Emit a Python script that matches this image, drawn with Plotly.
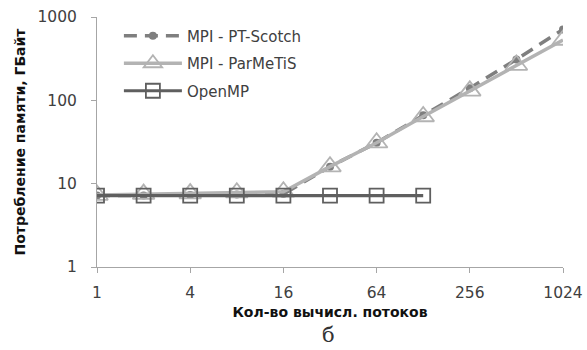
import plotly.graph_objects as go

threads = [1, 2, 4, 8, 16, 32, 64, 128, 256, 512, 1024]
openmp_threads = [1, 2, 4, 8, 16, 32, 64, 128]

pt_scotch = [7.2, 7.2, 7.3, 7.4, 7.5, 16, 31, 66, 140, 310, 710]
parmetis = [7.3, 7.5, 7.6, 7.8, 8.0, 16, 31, 64, 130, 265, 530]
openmp = [7.2, 7.2, 7.2, 7.2, 7.2, 7.2, 7.2, 7.2]

series_names = ["MPI - PT-Scotch", "MPI - ParMeTiS", "OpenMP"]
x_ticks = [1, 4, 16, 64, 256, 1024]
y_ticks = [1, 10, 100, 1000]

x_title = "Кол-во вычисл. потоков"
y_title = "Потребление памяти, ГБайт"
caption = "б"

tick_font = dict(family="DejaVu Sans", size=15.5, color="#404040")

fig = go.Figure()
fig.add_trace(go.Scatter(
    x=threads, y=pt_scotch, name=series_names[0], mode="lines+markers",
    line=dict(color="#7f7f7f", width=3.5, dash="13px,8px"),
    marker=dict(symbol="circle", size=8, color="#7f7f7f"),
    legendgroup="a",
))
fig.add_trace(go.Scatter(
    x=threads, y=parmetis, name=series_names[1], mode="lines+markers",
    line=dict(color="#b3b3b3", width=3.5),
    marker=dict(symbol="triangle-up-open", size=19, color="#b3b3b3", line=dict(width=1.8, color="#b3b3b3")),
    legendgroup="b",
))
fig.add_trace(go.Scatter(
    x=openmp_threads, y=openmp, name=series_names[2], mode="lines+markers",
    line=dict(color="#5f5f5f", width=3.2),
    marker=dict(symbol="square-open", size=14, color="#5f5f5f", line=dict(width=1.8, color="#5f5f5f")),
    legendgroup="c",
))

fig.update_layout(
    width=587, height=350,
    margin=dict(l=97, r=24, t=17, b=83, autoexpand=False),
    paper_bgcolor="white", plot_bgcolor="white",
    showlegend=True,
    legend=dict(x=0.047, y=0.99, xanchor="left", yanchor="top",
                bgcolor="rgba(0,0,0,0)", tracegroupgap=5, itemwidth=58,
                font=dict(family="DejaVu Sans", size=15, color="#404040")),
    xaxis=dict(
        type="log", range=[0, 3.0103], tickvals=x_ticks, ticktext=[str(v) for v in x_ticks],
        showgrid=False, zeroline=False, showline=True, linecolor="#a6a6a6", linewidth=1,
        ticks="outside", ticklen=5, tickcolor="#a6a6a6", tickfont=tick_font,
        ticklabelstandoff=6, automargin=False,
        title=dict(text="<b>" + x_title + "</b>", font=dict(family="DejaVu Sans", size=14, color="#111"), standoff=6),
    ),
    yaxis=dict(
        type="log", range=[0, 3], tickvals=y_ticks, ticktext=[str(v) for v in y_ticks],
        showgrid=False, zeroline=False, showline=True, linecolor="#a6a6a6", linewidth=1,
        ticks="outside", ticklen=5, tickcolor="#a6a6a6", tickfont=tick_font,
        ticklabelstandoff=11, automargin=False,
        title=dict(text="<b>" + y_title + "</b>", font=dict(family="DejaVu Sans", size=14, color="#111"), standoff=8),
    ),
    annotations=[dict(
        text=caption, xref="paper", yref="paper", x=0.496, y=0, yshift=-68,
        xanchor="center", yanchor="middle", showarrow=False,
        font=dict(family="DejaVu Serif", size=21, color="#333"),
    )],
)

fig.write_html("out.html")
